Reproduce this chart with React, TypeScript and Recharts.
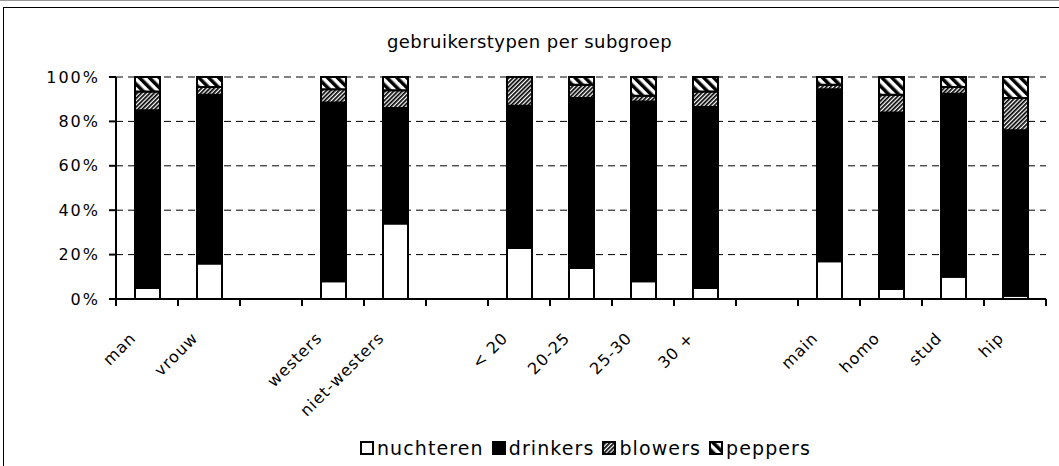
import { BarChart, Bar, XAxis, YAxis, CartesianGrid } from 'recharts'

const categories = ['man', 'vrouw', '', 'westers', 'niet-westers', '', '< 20', '20-25', '25-30', '30 +', '', 'main', 'homo', 'stud', 'hip']
const nuchteren = [5, 16, null, 8, 34, null, 23, 14, 8, 5, null, 17, 4.5, 10, 1.5]
const drinkers = [80, 76, null, 80.5, 52, null, 64, 76.5, 81, 81.5, null, 77.5, 79.5, 82.5, 74.5]
const blowers = [8.5, 3.5, null, 6, 8, null, 13, 6, 2.5, 7, null, 2, 8, 3, 14.5]
const peppers = [6.5, 4.5, null, 5.5, 6, null, null, 3.5, 8.5, 6.5, null, 3.5, 8, 4.5, 9.5]
const yTicks = [0, 20, 40, 60, 80, 100]
const title = 'gebruikerstypen per subgroep'

const series = [
  { key: 'nuchteren', fill: '#fff' },
  { key: 'drinkers', fill: '#000' },
  { key: 'blowers', fill: 'url(#hatchBlowers)' },
  { key: 'peppers', fill: 'url(#hatchPeppers)' },
]

const data = categories.map((name, i) => ({
  name,
  nuchteren: nuchteren[i],
  drinkers: drinkers[i],
  blowers: blowers[i],
  peppers: peppers[i],
}))

const W = 1059
const H = 466
const PLOT_LEFT = 116
const PLOT_RIGHT = 1046
const BAND = (PLOT_RIGHT - PLOT_LEFT) / categories.length
const font = '"DejaVu Sans", Verdana, sans-serif'

function CatTick(props: any) {
  const { x, y, payload, index } = props
  const lx = x - 10
  const ly = y + 40
  return (
    <g>
      {index === 0 && <line x1={x - BAND / 2} y1={y} x2={x - BAND / 2} y2={y + 7} stroke="#000" strokeWidth={2} />}
      <line x1={x + BAND / 2} y1={y} x2={x + BAND / 2} y2={y + 7} stroke="#000" strokeWidth={2} />
      <text
        x={lx}
        y={ly}
        transform={`rotate(-45, ${lx}, ${ly})`}
        textAnchor="end"
        fontFamily={font}
        fontSize={16}
        letterSpacing={1}
        fill="#000"
      >
        {payload.value}
      </text>
    </g>
  )
}

function LegendBox({ k }: { k: string }) {
  const fill = series.find((s) => s.key === k)!.fill
  return (
    <svg width={14} height={14} style={{ marginRight: 3 }}>
      <rect x={1} y={1} width={12} height={12} fill={fill} stroke="#000" strokeWidth={2} />
    </svg>
  )
}

export default function App() {
  return (
    <div style={{ position: 'fixed', left: 0, top: 0, width: W, height: H, overflow: 'hidden', background: '#fff' }}>
      <svg width={0} height={0} style={{ position: 'absolute' }}>
        <defs>
          <pattern id="hatchBlowers" patternUnits="userSpaceOnUse" width={3} height={3} patternTransform="rotate(45)">
            <rect width={3} height={3} fill="#fff" />
            <rect width={1.7} height={3} fill="#000" />
          </pattern>
          <pattern id="hatchPeppers" patternUnits="userSpaceOnUse" width={7} height={7} patternTransform="rotate(-45)">
            <rect width={7} height={7} fill="#fff" />
            <rect width={3.5} height={7} fill="#000" />
          </pattern>
        </defs>
      </svg>
      <div style={{ position: 'absolute', left: 0, top: 0, width: W, height: 1, background: '#999' }} />
      <div style={{ position: 'absolute', left: 3, top: 7, width: W + 20, height: H + 20, border: '1.5px solid #000' }} />
      <div
        style={{
          position: 'absolute',
          left: 0,
          top: 33,
          width: W,
          textAlign: 'center',
          fontFamily: font,
          fontSize: 18,
          letterSpacing: 0.45,
          lineHeight: '18px',
        }}
      >
        {title}
      </div>
      <div style={{ position: 'absolute', left: 0, top: 0 }}>
        <BarChart width={W} height={H} data={data} margin={{ top: 77, right: W - PLOT_RIGHT, left: PLOT_LEFT - 70, bottom: 67 }} barSize={25}>
          <CartesianGrid vertical={false} stroke="#000" strokeDasharray="7 5" />
          <XAxis
            dataKey="name"
            interval={0}
            tickLine={false}
            tickSize={0}
            tickMargin={0}
            height={100}
            axisLine={{ stroke: '#000', strokeWidth: 2 }}
            tick={<CatTick />}
          />
          <YAxis
            width={70}
            domain={[0, 100]}
            ticks={yTicks}
            tickFormatter={(v) => `${v}%`}
            tickSize={7}
            tickMargin={9}
            axisLine={{ stroke: '#000', strokeWidth: 2 }}
            tickLine={{ stroke: '#000', strokeWidth: 2 }}
            tick={{ fill: '#000', fontSize: 16, fontFamily: font, letterSpacing: 2 }}
          />
          {series.map((s) => (
            <Bar key={s.key} dataKey={s.key} stackId="a" fill={s.fill} stroke="#000" strokeWidth={2} isAnimationActive={false} />
          ))}
        </BarChart>
      </div>
      <div
        style={{
          position: 'absolute',
          left: 0,
          top: 437,
          width: W + 120,
          display: 'flex',
          justifyContent: 'center',
          alignItems: 'center',
          fontFamily: font,
          fontSize: 19,
          letterSpacing: 1.1,
          lineHeight: '22px',
        }}
      >
        {series.map((s) => (
          <span key={s.key} style={{ display: 'flex', alignItems: 'center', marginRight: 8 }}>
            <LegendBox k={s.key} />
            {s.key}
          </span>
        ))}
      </div>
    </div>
  )
}
